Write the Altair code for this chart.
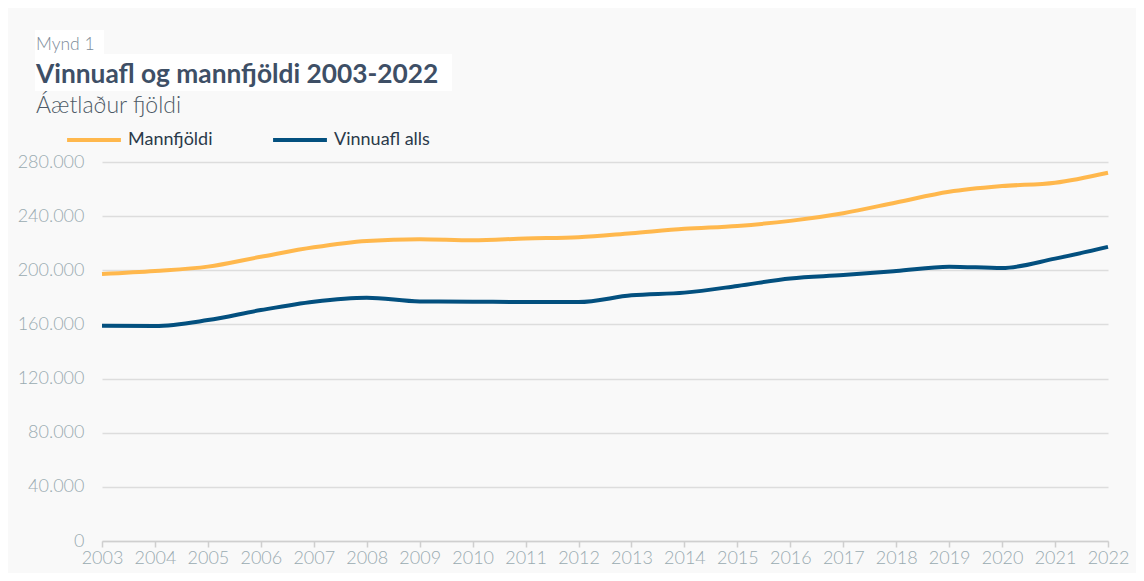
import altair as alt
import pandas as pd

years = list(range(2003, 2023))
mannfjoldi = [197300, 199500, 202700, 210000, 217000, 221700, 223000, 222200, 223500, 224400,
              227400, 230600, 232800, 236500, 242200, 250100, 258000, 262200, 264700, 272100]
vinnuafl = [159000, 158800, 163200, 170600, 176800, 179800, 177000, 176800, 176500, 176500,
            181500, 183500, 188400, 194000, 196500, 199500, 202700, 201700, 208600, 217300]
series_names = ["Mannfjöldi", "Vinnuafl alls"]
series_colors = ["#ffb84d", "#03507f"]
y_ticks = [0, 40000, 80000, 120000, 160000, 200000, 240000, 280000]

rows = []
for yr, m, v in zip(years, mannfjoldi, vinnuafl):
    rows.append({"ar": yr, "rod": series_names[0], "fjoldi": m})
    rows.append({"ar": yr, "rod": series_names[1], "fjoldi": v})
df = pd.DataFrame(rows)

FONT = "Lato"

lines = alt.Chart(df).mark_line(strokeWidth=4, interpolate="monotone").encode(
    x=alt.X("ar:Q", scale=alt.Scale(domain=[2003, 2022], nice=False),
            axis=alt.Axis(values=years, format="d", title=None, grid=False,
                          domain=True, domainColor="#cfcfcf", domainWidth=1.5,
                          ticks=True, tickColor="#cfcfcf", tickSize=6, tickWidth=1.5,
                          labelFont=FONT, labelFontSize=18, labelFontWeight=300,
                          labelColor="#9aabb1", labelPadding=2, labelFlush=False)),
    y=alt.Y("fjoldi:Q", scale=alt.Scale(domain=[0, 280000], nice=False),
            axis=alt.Axis(values=y_ticks, title=None, domain=False, ticks=False,
                          grid=True, gridColor="#dddddd", gridWidth=1.6,
                          labelExpr="replace(format(datum.value, ','), ',', '.')",
                          labelFont=FONT, labelFontSize=18, labelFontWeight=300,
                          labelColor="#9aabb1", labelPadding=18)),
    color=alt.Color("rod:N", scale=alt.Scale(domain=series_names, range=series_colors),
                    legend=alt.Legend(title=None, orient="none", legendX=-37, legendY=-51,
                                      direction="horizontal", symbolType="stroke",
                                      symbolSize=2900, symbolStrokeWidth=4,
                                      labelFont=FONT, labelFontSize=18, labelColor="#2b3a4a",
                                      columnPadding=52, labelOffset=5)),
)

box1 = alt.Chart(pd.DataFrame({"a": [0]})).mark_rect(color="white").encode(
    x=alt.value(-67), x2=alt.value(2), y=alt.value(-132), y2=alt.value(-108))
box2 = alt.Chart(pd.DataFrame({"a": [0]})).mark_rect(color="white").encode(
    x=alt.value(-67), x2=alt.value(350), y=alt.value(-108), y2=alt.value(-71))

t1 = alt.Chart(pd.DataFrame({"t": ["Mynd 1"]})).mark_text(
    font=FONT, fontSize=17.5, fontWeight=300, color="#7d8c99", align="left", baseline="alphabetic"
).encode(x=alt.value(-66), y=alt.value(-112), text="t:N")
t2 = alt.Chart(pd.DataFrame({"t": ["Vinnuafl og mannfjöldi 2003-2022"]})).mark_text(
    font=FONT, fontSize=26.3, fontWeight="bold", color="#3e4f66", align="left", baseline="alphabetic"
).encode(x=alt.value(-66), y=alt.value(-79), text="t:N")
t3 = alt.Chart(pd.DataFrame({"t": ["Áætlaður fjöldi"]})).mark_text(
    font=FONT, fontSize=23, fontWeight=300, color="#4d5966", align="left", baseline="alphabetic"
).encode(x=alt.value(-66), y=alt.value(-49), text="t:N")

chart = alt.layer(box1, box2, t1, t2, t3, lines).properties(
    width=1006, height=379,
    autosize=alt.AutoSizeParams(type="none"),
    padding={"left": 94, "top": 154, "right": 28, "bottom": 32},
    background="#f9f9f9",
).configure_view(stroke=None)

chart.save("out.html", embed_options={"renderer": "svg", "actions": False})
